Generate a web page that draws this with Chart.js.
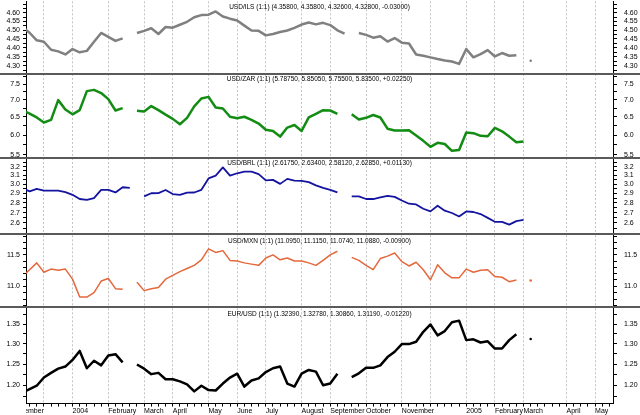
<!DOCTYPE html>
<html>
<head>
<meta charset="utf-8">
<script src="https://cdn.jsdelivr.net/npm/chart.js@4.4.1/dist/chart.umd.min.js"></script>
<style>
  body { margin: 0; background: #fff; }
  #wrap { position: relative; width: 640px; height: 415px; overflow: hidden; }
  #wrap canvas { position: absolute; left: 0; }
  .sep { position: absolute; left: 0; width: 640px; height: 2px; background: #5a5a5a; }
</style>
</head>
<body>
<div id="wrap">
  <canvas id="cILS" width="640" height="74" style="top:0px"></canvas>
  <canvas id="cZAR" width="640" height="84" style="top:74px"></canvas>
  <canvas id="cBRL" width="640" height="76" style="top:158px"></canvas>
  <canvas id="cMXN" width="640" height="73" style="top:234px"></canvas>
  <canvas id="cEUR" width="640" height="108" style="top:307px"></canvas>
  <div class="sep" style="top:73px"></div>
  <div class="sep" style="top:157px"></div>
  <div class="sep" style="top:233px"></div>
  <div class="sep" style="top:306px"></div>
</div>
<script>
// weekly points, index k (week number on the shared axis)
var weeks = [-1, 0, 1, 2, 3, 4, 5, 6, 7, 8,
  9, 10, 11, 12, 13, 14, 15, 16, 17, 18,
  19, 20, 21, 22, 23, 24, 25, 26, 27, 28,
  29, 30, 31, 32, 33, 34, 35, 36, 37, 38,
  39, 40, 41, 42, 43, 44, 45, 46, 47, 48,
  49, 50, 51, 52, 53, 54, 55, 56, 57, 58,
  59, 60, 61, 62, 63, 64, 65, 66, 67, 68,
  69, 70];

var usdIls = [4.518, 4.485, 4.442, 4.434, 4.389, 4.380, 4.363, 4.393, 4.375, 4.383,
  4.434, 4.484, 4.462, 4.439, 4.453, null, 4.484, 4.496, 4.511, 4.478,
  4.518, 4.514, 4.531, 4.548, 4.574, 4.587, 4.589, 4.608, 4.579, 4.566,
  4.555, 4.526, 4.498, 4.496, 4.470, 4.478, 4.489, 4.498, 4.513, 4.532,
  4.544, 4.533, 4.542, 4.529, 4.499, 4.480, null, 4.484, 4.473, 4.457,
  4.465, 4.435, 4.455, 4.429, 4.424, 4.363, 4.356, 4.347, 4.338, 4.330,
  4.324, 4.311, 4.393, 4.347, 4.365, 4.387, 4.352, 4.371, 4.356, 4.358,
  null, 4.328];

var usdZar = [6.69, 6.59, 6.48, 6.34, 6.41, 6.99, 6.71, 6.57, 6.69, 7.27,
  7.31, 7.21, 7.02, 6.68, 6.75, null, 6.67, 6.65, 6.81, 6.69,
  6.56, 6.44, 6.29, 6.47, 6.80, 7.04, 7.09, 6.77, 6.74, 6.50,
  6.46, 6.50, 6.41, 6.31, 6.14, 6.11, 5.96, 6.20, 6.27, 6.11,
  6.48, 6.58, 6.69, 6.68, 6.58, null, 6.57, 6.42, 6.47, 6.55,
  6.48, 6.17, 6.12, 6.12, 6.13, 5.99, 5.85, 5.70, 5.80, 5.77,
  5.60, 5.62, 6.07, 6.05, 5.98, 5.97, 6.19, 6.10, 5.96, 5.8125,
  5.835, null];

var usdBrl = [2.954, 2.922, 2.949, 2.930, 2.930, 2.929, 2.914, 2.884, 2.840, 2.832,
  2.850, 2.938, 2.938, 2.910, 2.966, 2.959, null, 2.867, 2.901, 2.902,
  2.936, 2.892, 2.884, 2.908, 2.909, 2.938, 3.064, 3.095, 3.191, 3.095,
  3.123, 3.141, 3.141, 3.113, 3.042, 3.048, 3.003, 3.059, 3.040, 3.037,
  3.022, 2.987, 2.959, 2.938, 2.911, null, 2.867, 2.867, 2.840, 2.840,
  2.857, 2.874, 2.863, 2.825, 2.791, 2.784, 2.740, 2.713, 2.770, 2.720,
  2.697, 2.663, 2.713, 2.707, 2.687, 2.649, 2.611, 2.610, 2.584, 2.6175,
  2.6285, null];

var usdMxn = [11.15, 11.26, 11.37, 11.22, 11.27, 11.25, 11.27, 11.11, 10.83, 10.83,
  10.90, 11.08, 11.12, 10.96, 10.95, null, 11.06, 10.93, 10.96, 10.98,
  11.11, 11.17, 11.23, 11.28, 11.33, 11.42, 11.60, 11.54, 11.57, 11.41,
  11.40, 11.37, 11.35, 11.33, 11.45, 11.50, 11.42, 11.45, 11.40, 11.40,
  11.37, 11.33, 11.41, 11.50, 11.56, null, 11.46, 11.41, 11.33, 11.26,
  11.44, 11.48, 11.53, 11.39, 11.32, 11.38, 11.26, 11.10, 11.34, 11.21,
  11.13, 11.13, 11.27, 11.22, 11.25, 11.26, 11.15, 11.14, 11.07, 11.097,
  null, 11.088];

var eurUsd = [1.183, 1.191, 1.199, 1.218, 1.229, 1.239, 1.244, 1.260, 1.282, 1.240,
  1.258, 1.247, 1.271, 1.274, 1.254, null, 1.249, 1.239, 1.226, 1.229,
  1.214, 1.214, 1.209, 1.202, 1.186, 1.199, 1.189, 1.188, 1.204, 1.218,
  1.227, 1.197, 1.211, 1.216, 1.231, 1.240, 1.244, 1.204, 1.197, 1.227,
  1.236, 1.232, 1.200, 1.204, 1.227, null, 1.219, 1.228, 1.241, 1.241,
  1.247, 1.267, 1.280, 1.299, 1.299, 1.305, 1.330, 1.349, 1.321, 1.332,
  1.355, 1.359, 1.309, 1.311, 1.303, 1.306, 1.288, 1.288, 1.309, 1.324,
  null, 1.3119];

// month boundaries on the week axis and their labels
var monthTicks = [-2.5, 2, 6, 11, 16, 20, 25, 29, 33, 38, 42, 47, 52, 56, 61, 65, 69, 75, 79];
var monthLabels = ["November", "", "2004", "February", "March", "April", "May", "June", "July",
  "August", "September", "October", "November", "", "2005", "February", "March", "April", "May"];

// y ticks (all marks) and the ones that carry a label
var ilsTicks = [4.275, 4.30, 4.325, 4.35, 4.375, 4.40, 4.425, 4.45, 4.475, 4.50, 4.525, 4.55, 4.575, 4.60, 4.625, 4.65];
var ilsLabels = [4.30, 4.35, 4.40, 4.45, 4.50, 4.55, 4.60];
var zarTicks = [5.5, 5.75, 6.0, 6.25, 6.5, 6.75, 7.0, 7.25, 7.5, 7.75];
var zarLabels = [5.5, 6.0, 6.5, 7.0, 7.5];
var brlTicks = [2.55, 2.6, 2.65, 2.7, 2.75, 2.8, 2.85, 2.9, 2.95, 3.0, 3.05, 3.1, 3.15, 3.2, 3.25];
var brlLabels = [2.6, 2.7, 2.8, 2.9, 3.0, 3.1, 3.2];
var mxnTicks = [10.7, 10.8, 10.9, 11.0, 11.1, 11.2, 11.3, 11.4, 11.5, 11.6, 11.7, 11.8];
var mxnLabels = [11.0, 11.5];
var eurTicks = [1.175, 1.20, 1.225, 1.25, 1.275, 1.30, 1.325, 1.35, 1.375];
var eurLabels = [1.20, 1.25, 1.30, 1.35];

Chart.defaults.font.family = '"Liberation Sans", Arial, sans-serif';
Chart.defaults.font.size = 7;
Chart.defaults.color = "#000";

function isLabel(list, v) {
  return list.some(function (l) { return Math.abs(l - v) < 1e-6; });
}

// title text sits inside the plot, at the top
var panelTitle = {
  id: "panelTitle",
  afterDatasetsDraw: function (chart, args, opts) {
    var a = chart.chartArea, ctx = chart.ctx;
    ctx.save();
    ctx.font = '6.5px "Liberation Sans", Arial, sans-serif';
    ctx.fillStyle = "#000";
    ctx.textAlign = "center";
    ctx.textBaseline = "middle";
    ctx.fillText(opts.text, (a.left + a.right) / 2, a.top + 5.5);
    ctx.restore();
  }
};

// month label that starts before the plot is cut at the left axis
var maskCorner = {
  id: "maskCorner",
  afterDraw: function (chart) {
    var a = chart.chartArea, ctx = chart.ctx;
    ctx.save();
    ctx.fillStyle = "#fff";
    ctx.fillRect(0, a.bottom + 1, a.left, chart.height - a.bottom);
    ctx.restore();
  }
};

var gridColor = function (c) {
  return c.tick && c.tick.value > -0.5 ? "#c4c4c4" : "rgba(0,0,0,0)";
};

function yAxis(pos, yMin, yMax, yTicks, yLabels, digits) {
  return {
    type: "logarithmic",
    position: pos,
    min: yMin,
    max: yMax,
    bounds: "data",
    afterBuildTicks: function (s) {
      s.ticks = yTicks.map(function (v) { return { value: v }; });
    },
    afterFit: function (s) {
      s.width = pos === "left" ? 26 : 27;
      s.paddingTop = 0;
      s.paddingBottom = 0;
    },
    grid: { drawOnChartArea: false, tickLength: pos === "left" ? 3 : 4, tickColor: "#000" },
    border: { color: "#000" },
    ticks: {
      autoSkip: false,
      padding: pos === "left" ? 3 : 7,
      callback: function (v) { return isLabel(yLabels, v) ? v.toFixed(digits) : ""; }
    }
  };
}

function makePanel(id, series, color, width, yMin, yMax, yTicks, yLabels, digits, title, bottom) {
  var scales = {};
  if (!bottom) {
    scales.x = {
      type: "linear", min: -0.5, max: 81.5,
      afterBuildTicks: function (s) { s.ticks = monthTicks.map(function (v) { return { value: v }; }); },
      afterFit: function (s) { s.paddingLeft = 0; s.paddingRight = 0; },
      ticks: { display: false },
      grid: { drawTicks: false, color: gridColor },
      border: { display: false, dash: [2, 2] }
    };
  } else {
    // weekly tick marks on the axis line
    scales.x = {
      type: "linear", min: -0.5, max: 81.5, position: "bottom", weight: 0,
      afterBuildTicks: function (s) {
        var t = [];
        for (var k = Math.ceil(s.min); k <= Math.floor(s.max); k++) t.push({ value: k });
        s.ticks = t;
      },
      afterFit: function (s) { s.paddingLeft = 0; s.paddingRight = 0; },
      ticks: { display: false },
      grid: { drawOnChartArea: false, tickLength: 3, tickColor: "#000" },
      border: { color: "#000" }
    };
    // month grid lines and names
    scales.xm = {
      type: "linear", min: -0.5, max: 81.5, position: "bottom", weight: 1,
      afterBuildTicks: function (s) { s.ticks = monthTicks.map(function (v) { return { value: v }; }); },
      afterFit: function (s) { s.paddingLeft = 0; s.paddingRight = 0; },
      ticks: {
        autoSkip: false, maxRotation: 0, minRotation: 0, align: "start", padding: 0,
        callback: function (v, i) { return monthLabels[i]; }
      },
      grid: { drawTicks: false, color: gridColor },
      border: { display: false, dash: [2, 2] }
    };
  }
  scales.y = yAxis("left", yMin, yMax, yTicks, yLabels, digits);
  scales.y2 = yAxis("right", yMin, yMax, yTicks, yLabels, digits);

  return new Chart(document.getElementById(id), {
    type: "line",
    data: {
      labels: weeks,
      datasets: [{
        data: series,
        xAxisID: "x",
        yAxisID: "y",
        borderColor: color,
        borderWidth: width,
        borderJoinStyle: "round",
        backgroundColor: color,
        pointBackgroundColor: color,
        pointBorderWidth: 0,
        pointHoverRadius: 0,
        pointRadius: function (c) {
          var d = c.dataset.data, i = c.dataIndex;
          if (d[i] == null) return 0;
          return (d[i - 1] == null && d[i + 1] == null) ? 1.3 : 0;
        },
        tension: 0,
        clip: 0
      }]
    },
    options: {
      responsive: false,
      animation: false,
      devicePixelRatio: 1,
      events: [],
      layout: { padding: 0 },
      plugins: {
        legend: { display: false },
        tooltip: { enabled: false },
        panelTitle: { text: title }
      },
      scales: scales
    },
    plugins: bottom ? [panelTitle, maskCorner] : [panelTitle]
  });
}

makePanel("cILS", usdIls, "#808080", 2.5, 4.263, 4.668, ilsTicks, ilsLabels, 2,
  "USD/ILS (1:1) (4.35800, 4.35800, 4.32600, 4.32800, -0.03000)", false);
makePanel("cZAR", usdZar, "#128c12", 2.5, 5.428, 7.835, zarTicks, zarLabels, 1,
  "USD/ZAR (1:1) (5.78750, 5.85050, 5.75500, 5.83500, +0.02250)", false);
makePanel("cBRL", usdBrl, "#1414a0", 1.8, 2.496, 3.304, brlTicks, brlLabels, 1,
  "USD/BRL (1:1) (2.61750, 2.63400, 2.58120, 2.62850, +0.01130)", false);
makePanel("cMXN", usdMxn, "#e4683c", 1.5, 10.698, 11.825, mxnTicks, mxnLabels, 1,
  "USD/MXN (1:1) (11.0950, 11.1150, 11.0740, 11.0880, -0.00900)", false);
makePanel("cEUR", eurUsd, "#000000", 2.5, 1.1584, 1.3917, eurTicks, eurLabels, 2,
  "EUR/USD (1:1) (1.32390, 1.32780, 1.30860, 1.31190, -0.01220)", true);
</script>
</body>
</html>
